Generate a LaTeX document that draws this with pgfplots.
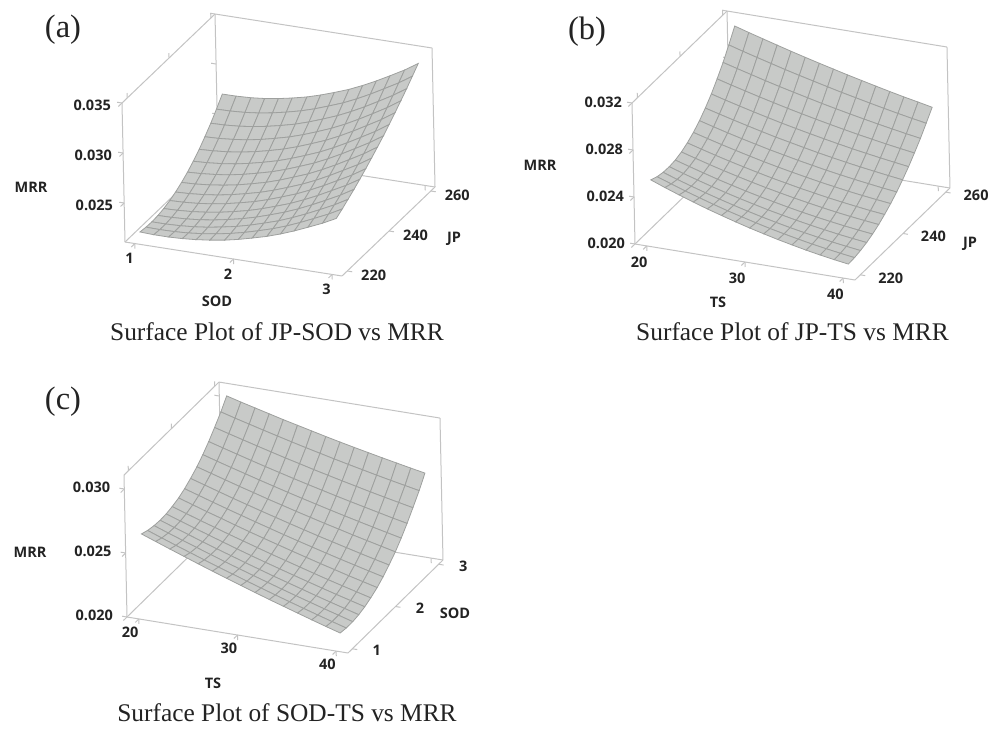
\documentclass[border=0pt]{standalone}
\usepackage{pgfplots}
\pgfplotsset{compat=1.18}
\usepackage{fontspec}
\setmainfont{Liberation Serif}
\newfontfamily\lbl{Open Sans}
\definecolor{boxg}{RGB}{195,195,195}
\definecolor{surfg}{RGB}{200,202,200}
\definecolor{meshg}{RGB}{158,160,158}
\definecolor{txt}{RGB}{35,35,35}
\pgfplotsset{
  rs/.style={
    clip=false,
    axis line style={boxg,line width=1pt},
    tick style={boxg,line width=1pt},
    tick align=outside,
    major tick length=5pt,
    xtick pos=left,ytick pos=right,ztick pos=left,
    xticklabel pos=left,yticklabel pos=left,zticklabel pos=left,
    scaled ticks=false,
    /pgf/number format/assume math mode=true,
    ticklabel style={font=\lbl\bfseries\fontsize{14.5}{14.5}\selectfont,text=txt},
    z tick label style={/pgf/number format/fixed,/pgf/number format/fixed zerofill,/pgf/number format/precision=3},
    x tick label style={/pgf/number format/fixed},
    y tick label style={/pgf/number format/fixed},
    colormap={cst}{color=(surfg) color=(surfg)},
    anchor=south west,
  },
  sf/.style={surf,shader=faceted,faceted color=meshg,line width=0.8pt,mesh/rows=15,mesh/cols=15},
}
\newcommand{\lab}[3]{\node[font=\lbl\bfseries\fontsize{14.5}{14.5}\selectfont,text=txt] at (#1pt,#2pt) {#3};}
\newcommand{\capt}[3]{\node[font=\fontsize{25.4}{25.4}\selectfont,text=txt] at (#1pt,#2pt) {#3};}
\newcommand{\pan}[3]{\node[font=\fontsize{32.5}{32.5}\selectfont,text=txt] at (#1pt,#2pt) {#3};}
\begin{document}
\begin{tikzpicture}[x=1pt,y=1pt]
\path[use as bounding box] (0,0) rectangle (1003pt,729pt);
% ---------- (a)
\begin{axis}[rs,at={(122pt,453pt)},
  x={(98.64pt,-15.45pt)},y={(2.09pt,2.0pt)},z={(-215.8pt,10000pt)},
  xmin=0.9,xmax=3.1,ymin=217.5,ymax=262,zmin=0.0211,zmax=0.035,
  xtick={1,2,3},ytick={220,240,260},ztick={0.025,0.03,0.035},
  x tick label style={xshift=2pt,yshift=-2pt},
  y tick label style={xshift=10pt,yshift=10pt},
  z tick label style={xshift=-4pt,yshift=8pt}]
\addplot3[sf] coordinates {
(1,220,0.02176)(1.14,220,0.0217)(1.29,220,0.0217)(1.43,220,0.02176)(1.57,220,0.02187)(1.71,220,0.02204)(1.86,220,0.02227)(2,220,0.02256)(2.14,220,0.02291)(2.29,220,0.02331)(2.43,220,0.02377)(2.57,220,0.02429)(2.71,220,0.02487)(2.86,220,0.02551)(3,220,0.0262)
(1,222.9,0.02166)(1.14,222.9,0.02163)(1.29,222.9,0.02166)(1.43,222.9,0.02174)(1.57,222.9,0.02189)(1.71,222.9,0.02209)(1.86,222.9,0.02236)(2,222.9,0.02268)(2.14,222.9,0.02306)(2.29,222.9,0.0235)(2.43,222.9,0.02399)(2.57,222.9,0.02455)(2.71,222.9,0.02517)(2.86,222.9,0.02584)(3,222.9,0.02657)
(1,225.7,0.02163)(1.14,225.7,0.02163)(1.29,225.7,0.02169)(1.43,225.7,0.0218)(1.57,225.7,0.02197)(1.71,225.7,0.02221)(1.86,225.7,0.0225)(2,225.7,0.02285)(2.14,225.7,0.02326)(2.29,225.7,0.02373)(2.43,225.7,0.02426)(2.57,225.7,0.02485)(2.71,225.7,0.02549)(2.86,225.7,0.0262)(3,225.7,0.02697)
(1,228.6,0.02169)(1.14,228.6,0.02171)(1.29,228.6,0.02179)(1.43,228.6,0.02192)(1.57,228.6,0.02212)(1.71,228.6,0.02238)(1.86,228.6,0.0227)(2,228.6,0.02307)(2.14,228.6,0.02351)(2.29,228.6,0.02401)(2.43,228.6,0.02456)(2.57,228.6,0.02518)(2.71,228.6,0.02585)(2.86,228.6,0.02659)(3,228.6,0.02739)
(1,231.4,0.02182)(1.14,231.4,0.02186)(1.29,231.4,0.02196)(1.43,231.4,0.02212)(1.57,231.4,0.02233)(1.71,231.4,0.02261)(1.86,231.4,0.02295)(2,231.4,0.02335)(2.14,231.4,0.02381)(2.29,231.4,0.02433)(2.43,231.4,0.02491)(2.57,231.4,0.02555)(2.71,231.4,0.02625)(2.86,231.4,0.02701)(3,231.4,0.02783)
(1,234.3,0.02204)(1.14,234.3,0.02209)(1.29,234.3,0.0222)(1.43,234.3,0.02238)(1.57,234.3,0.02261)(1.71,234.3,0.02291)(1.86,234.3,0.02326)(2,234.3,0.02368)(2.14,234.3,0.02416)(2.29,234.3,0.0247)(2.43,234.3,0.0253)(2.57,234.3,0.02596)(2.71,234.3,0.02668)(2.86,234.3,0.02746)(3,234.3,0.02831)
(1,237.1,0.02233)(1.14,237.1,0.02239)(1.29,237.1,0.02252)(1.43,237.1,0.0227)(1.57,237.1,0.02295)(1.71,237.1,0.02326)(1.86,237.1,0.02363)(2,237.1,0.02406)(2.14,237.1,0.02455)(2.29,237.1,0.02511)(2.43,237.1,0.02572)(2.57,237.1,0.0264)(2.71,237.1,0.02714)(2.86,237.1,0.02794)(3,237.1,0.0288)
(1,240,0.02271)(1.14,240,0.02277)(1.29,240,0.02291)(1.43,240,0.0231)(1.57,240,0.02335)(1.71,240,0.02367)(1.86,240,0.02405)(2,240,0.02449)(2.14,240,0.025)(2.29,240,0.02556)(2.43,240,0.02619)(2.57,240,0.02688)(2.71,240,0.02763)(2.86,240,0.02845)(3,240,0.02933)
(1,242.9,0.02316)(1.14,242.9,0.02323)(1.29,242.9,0.02337)(1.43,242.9,0.02356)(1.57,242.9,0.02382)(1.71,242.9,0.02415)(1.86,242.9,0.02453)(2,242.9,0.02498)(2.14,242.9,0.02549)(2.29,242.9,0.02606)(2.43,242.9,0.0267)(2.57,242.9,0.0274)(2.71,242.9,0.02816)(2.86,242.9,0.02899)(3,242.9,0.02987)
(1,245.7,0.02369)(1.14,245.7,0.02376)(1.29,245.7,0.0239)(1.43,245.7,0.02409)(1.57,245.7,0.02436)(1.71,245.7,0.02468)(1.86,245.7,0.02507)(2,245.7,0.02552)(2.14,245.7,0.02603)(2.29,245.7,0.02661)(2.43,245.7,0.02725)(2.57,245.7,0.02796)(2.71,245.7,0.02872)(2.86,245.7,0.02955)(3,245.7,0.03045)
(1,248.6,0.0243)(1.14,248.6,0.02437)(1.29,248.6,0.0245)(1.43,248.6,0.02469)(1.57,248.6,0.02495)(1.71,248.6,0.02527)(1.86,248.6,0.02566)(2,248.6,0.02611)(2.14,248.6,0.02662)(2.29,248.6,0.0272)(2.43,248.6,0.02784)(2.57,248.6,0.02855)(2.71,248.6,0.02932)(2.86,248.6,0.03015)(3,248.6,0.03105)
(1,251.4,0.025)(1.14,251.4,0.02505)(1.29,251.4,0.02518)(1.43,251.4,0.02536)(1.57,251.4,0.02561)(1.71,251.4,0.02593)(1.86,251.4,0.02631)(2,251.4,0.02675)(2.14,251.4,0.02726)(2.29,251.4,0.02784)(2.43,251.4,0.02847)(2.57,251.4,0.02918)(2.71,251.4,0.02994)(2.86,251.4,0.03078)(3,251.4,0.03167)
(1,254.3,0.02577)(1.14,254.3,0.02581)(1.29,254.3,0.02592)(1.43,254.3,0.0261)(1.57,254.3,0.02634)(1.71,254.3,0.02664)(1.86,254.3,0.02701)(2,254.3,0.02745)(2.14,254.3,0.02795)(2.29,254.3,0.02852)(2.43,254.3,0.02915)(2.57,254.3,0.02984)(2.71,254.3,0.0306)(2.86,254.3,0.03143)(3,254.3,0.03232)
(1,257.1,0.02662)(1.14,257.1,0.02665)(1.29,257.1,0.02674)(1.43,257.1,0.0269)(1.57,257.1,0.02713)(1.71,257.1,0.02742)(1.86,257.1,0.02778)(2,257.1,0.0282)(2.14,257.1,0.02869)(2.29,257.1,0.02924)(2.43,257.1,0.02986)(2.57,257.1,0.03055)(2.71,257.1,0.0313)(2.86,257.1,0.03212)(3,257.1,0.033)
(1,260,0.02755)(1.14,260,0.02756)(1.29,260,0.02763)(1.43,260,0.02777)(1.57,260,0.02798)(1.71,260,0.02825)(1.86,260,0.02859)(2,260,0.029)(2.14,260,0.02947)(2.29,260,0.03001)(2.43,260,0.03062)(2.57,260,0.03129)(2.71,260,0.03202)(2.86,260,0.03283)(3,260,0.0337)
};
\end{axis}
% ---------- (b)
\begin{axis}[rs,at={(632pt,449pt)},
  x={(9.82pt,-1.607pt)},y={(2.135pt,2.067pt)},z={(-250pt,11750pt)},
  xmin=18.8,xmax=41.2,ymin=217.5,ymax=262,zmin=0.02,zmax=0.032,
  xtick={20,30,40},ytick={220,240,260},ztick={0.02,0.024,0.028,0.032},
  x tick label style={xshift=0pt,yshift=-3pt},
  y tick label style={xshift=14pt,yshift=11pt},
  z tick label style={xshift=-3pt,yshift=11pt}]
\addplot3[sf] coordinates {
(20,220,0.02518)(21.43,220,0.02472)(22.86,220,0.02429)(24.29,220,0.02388)(25.71,220,0.02349)(27.14,220,0.02313)(28.57,220,0.02278)(30,220,0.02245)(31.43,220,0.02215)(32.86,220,0.02186)(34.29,220,0.0216)(35.71,220,0.02135)(37.14,220,0.02113)(38.57,220,0.02093)(40,220,0.02075)
(20,222.9,0.02494)(21.43,222.9,0.02452)(22.86,222.9,0.02411)(24.29,222.9,0.02373)(25.71,222.9,0.02336)(27.14,222.9,0.02301)(28.57,222.9,0.02269)(30,222.9,0.02238)(31.43,222.9,0.02209)(32.86,222.9,0.02183)(34.29,222.9,0.02158)(35.71,222.9,0.02135)(37.14,222.9,0.02115)(38.57,222.9,0.02096)(40,222.9,0.02079)
(20,225.7,0.02482)(21.43,225.7,0.02441)(22.86,225.7,0.02403)(24.29,225.7,0.02366)(25.71,225.7,0.02332)(27.14,225.7,0.02299)(28.57,225.7,0.02268)(30,225.7,0.02239)(31.43,225.7,0.02212)(32.86,225.7,0.02187)(34.29,225.7,0.02164)(35.71,225.7,0.02143)(37.14,225.7,0.02123)(38.57,225.7,0.02106)(40,225.7,0.0209)
(20,228.6,0.02479)(21.43,228.6,0.0244)(22.86,228.6,0.02404)(24.29,228.6,0.02369)(25.71,228.6,0.02336)(27.14,228.6,0.02305)(28.57,228.6,0.02276)(30,228.6,0.02248)(31.43,228.6,0.02223)(32.86,228.6,0.02199)(34.29,228.6,0.02177)(35.71,228.6,0.02157)(37.14,228.6,0.02138)(38.57,228.6,0.02122)(40,228.6,0.02107)
(20,231.4,0.02486)(21.43,231.4,0.0245)(22.86,231.4,0.02415)(24.29,231.4,0.02381)(25.71,231.4,0.0235)(27.14,231.4,0.0232)(28.57,231.4,0.02292)(30,231.4,0.02266)(31.43,231.4,0.02241)(32.86,231.4,0.02218)(34.29,231.4,0.02197)(35.71,231.4,0.02178)(37.14,231.4,0.0216)(38.57,231.4,0.02144)(40,231.4,0.0213)
(20,234.3,0.02504)(21.43,234.3,0.02469)(22.86,234.3,0.02435)(24.29,234.3,0.02403)(25.71,234.3,0.02373)(27.14,234.3,0.02344)(28.57,234.3,0.02317)(30,234.3,0.02292)(31.43,234.3,0.02268)(32.86,234.3,0.02246)(34.29,234.3,0.02225)(35.71,234.3,0.02206)(37.14,234.3,0.02189)(38.57,234.3,0.02174)(40,234.3,0.0216)
(20,237.1,0.02532)(21.43,237.1,0.02498)(22.86,237.1,0.02465)(24.29,237.1,0.02434)(25.71,237.1,0.02405)(27.14,237.1,0.02377)(28.57,237.1,0.0235)(30,237.1,0.02326)(31.43,237.1,0.02302)(32.86,237.1,0.02281)(34.29,237.1,0.0226)(35.71,237.1,0.02242)(37.14,237.1,0.02225)(38.57,237.1,0.02209)(40,237.1,0.02196)
(20,240,0.0257)(21.43,240,0.02537)(22.86,240,0.02505)(24.29,240,0.02475)(25.71,240,0.02446)(27.14,240,0.02418)(28.57,240,0.02392)(30,240,0.02368)(31.43,240,0.02345)(32.86,240,0.02323)(34.29,240,0.02303)(35.71,240,0.02284)(37.14,240,0.02267)(38.57,240,0.02252)(40,240,0.02238)
(20,242.9,0.02619)(21.43,242.9,0.02586)(22.86,242.9,0.02554)(24.29,242.9,0.02524)(25.71,242.9,0.02496)(27.14,242.9,0.02468)(28.57,242.9,0.02443)(30,242.9,0.02418)(31.43,242.9,0.02395)(32.86,242.9,0.02373)(34.29,242.9,0.02353)(35.71,242.9,0.02334)(37.14,242.9,0.02317)(38.57,242.9,0.023)(40,242.9,0.02286)
(20,245.7,0.02677)(21.43,245.7,0.02645)(22.86,245.7,0.02614)(24.29,245.7,0.02584)(25.71,245.7,0.02555)(27.14,245.7,0.02527)(28.57,245.7,0.02502)(30,245.7,0.02477)(31.43,245.7,0.02453)(32.86,245.7,0.02431)(34.29,245.7,0.0241)(35.71,245.7,0.02391)(37.14,245.7,0.02373)(38.57,245.7,0.02356)(40,245.7,0.0234)
(20,248.6,0.02746)(21.43,248.6,0.02713)(22.86,248.6,0.02682)(24.29,248.6,0.02652)(25.71,248.6,0.02623)(27.14,248.6,0.02595)(28.57,248.6,0.02569)(30,248.6,0.02544)(31.43,248.6,0.0252)(32.86,248.6,0.02497)(34.29,248.6,0.02475)(35.71,248.6,0.02455)(37.14,248.6,0.02436)(38.57,248.6,0.02418)(40,248.6,0.02401)
(20,251.4,0.02825)(21.43,251.4,0.02792)(22.86,251.4,0.02761)(24.29,251.4,0.0273)(25.71,251.4,0.02701)(27.14,251.4,0.02672)(28.57,251.4,0.02645)(30,251.4,0.02619)(31.43,251.4,0.02594)(32.86,251.4,0.0257)(34.29,251.4,0.02547)(35.71,251.4,0.02526)(37.14,251.4,0.02505)(38.57,251.4,0.02486)(40,251.4,0.02468)
(20,254.3,0.02914)(21.43,254.3,0.02881)(22.86,254.3,0.02849)(24.29,254.3,0.02817)(25.71,254.3,0.02787)(27.14,254.3,0.02758)(28.57,254.3,0.0273)(30,254.3,0.02702)(31.43,254.3,0.02676)(32.86,254.3,0.02651)(34.29,254.3,0.02627)(35.71,254.3,0.02604)(37.14,254.3,0.02582)(38.57,254.3,0.02561)(40,254.3,0.02541)
(20,257.1,0.03014)(21.43,257.1,0.02979)(22.86,257.1,0.02946)(24.29,257.1,0.02914)(25.71,257.1,0.02882)(27.14,257.1,0.02852)(28.57,257.1,0.02823)(30,257.1,0.02794)(31.43,257.1,0.02766)(32.86,257.1,0.0274)(34.29,257.1,0.02714)(35.71,257.1,0.02689)(37.14,257.1,0.02665)(38.57,257.1,0.02642)(40,257.1,0.02621)
(20,260,0.03124)(21.43,260,0.03088)(22.86,260,0.03054)(24.29,260,0.0302)(25.71,260,0.02987)(27.14,260,0.02955)(28.57,260,0.02924)(30,260,0.02894)(31.43,260,0.02864)(32.86,260,0.02836)(34.29,260,0.02808)(35.71,260,0.02781)(37.14,260,0.02755)(38.57,260,0.02731)(40,260,0.02706)
};
\end{axis}
% ---------- (c)
\begin{axis}[rs,at={(124pt,76pt)},
  x={(9.866pt,-1.607pt)},y={(43.18pt,42.27pt)},z={(-270.5pt,12800pt)},
  xmin=18.8,xmax=41.2,ymin=0.9,ymax=3.1,zmin=0.02,zmax=0.03109,
  xtick={20,30,40},ytick={1,2,3},ztick={0.02,0.025,0.03},
  x tick label style={xshift=-1pt,yshift=0pt},
  y tick label style={xshift=12pt,yshift=8pt},
  z tick label style={xshift=-7pt,yshift=12pt}]
\addplot3[sf] coordinates {
(20,1,0.02631)(21.43,1,0.0259)(22.86,1,0.02549)(24.29,1,0.02509)(25.71,1,0.02469)(27.14,1,0.0243)(28.57,1,0.02392)(30,1,0.02354)(31.43,1,0.02317)(32.86,1,0.0228)(34.29,1,0.02245)(35.71,1,0.0221)(37.14,1,0.02175)(38.57,1,0.02141)(40,1,0.02108)
(20,1.14,0.02612)(21.43,1.14,0.02571)(22.86,1.14,0.02531)(24.29,1.14,0.02492)(25.71,1.14,0.02453)(27.14,1.14,0.02415)(28.57,1.14,0.02378)(30,1.14,0.02341)(31.43,1.14,0.02305)(32.86,1.14,0.02269)(34.29,1.14,0.02234)(35.71,1.14,0.022)(37.14,1.14,0.02166)(38.57,1.14,0.02133)(40,1.14,0.02101)
(20,1.29,0.026)(21.43,1.29,0.0256)(22.86,1.29,0.02521)(24.29,1.29,0.02483)(25.71,1.29,0.02445)(27.14,1.29,0.02407)(28.57,1.29,0.02371)(30,1.29,0.02335)(31.43,1.29,0.023)(32.86,1.29,0.02265)(34.29,1.29,0.02231)(35.71,1.29,0.02198)(37.14,1.29,0.02165)(38.57,1.29,0.02133)(40,1.29,0.02101)
(20,1.43,0.02596)(21.43,1.43,0.02557)(22.86,1.43,0.02519)(24.29,1.43,0.02481)(25.71,1.43,0.02444)(27.14,1.43,0.02408)(28.57,1.43,0.02372)(30,1.43,0.02337)(31.43,1.43,0.02302)(32.86,1.43,0.02269)(34.29,1.43,0.02236)(35.71,1.43,0.02203)(37.14,1.43,0.02171)(38.57,1.43,0.0214)(40,1.43,0.02109)
(20,1.57,0.02599)(21.43,1.57,0.02561)(22.86,1.57,0.02524)(24.29,1.57,0.02487)(25.71,1.57,0.02451)(27.14,1.57,0.02415)(28.57,1.57,0.0238)(30,1.57,0.02346)(31.43,1.57,0.02313)(32.86,1.57,0.0228)(34.29,1.57,0.02248)(35.71,1.57,0.02216)(37.14,1.57,0.02185)(38.57,1.57,0.02155)(40,1.57,0.02125)
(20,1.71,0.0261)(21.43,1.71,0.02573)(22.86,1.71,0.02536)(24.29,1.71,0.02501)(25.71,1.71,0.02465)(27.14,1.71,0.02431)(28.57,1.71,0.02397)(30,1.71,0.02363)(31.43,1.71,0.02331)(32.86,1.71,0.02299)(34.29,1.71,0.02267)(35.71,1.71,0.02236)(37.14,1.71,0.02206)(38.57,1.71,0.02177)(40,1.71,0.02148)
(20,1.86,0.02628)(21.43,1.86,0.02592)(22.86,1.86,0.02556)(24.29,1.86,0.02522)(25.71,1.86,0.02487)(27.14,1.86,0.02453)(28.57,1.86,0.0242)(30,1.86,0.02388)(31.43,1.86,0.02356)(32.86,1.86,0.02325)(34.29,1.86,0.02294)(35.71,1.86,0.02265)(37.14,1.86,0.02235)(38.57,1.86,0.02207)(40,1.86,0.02179)
(20,2,0.02654)(21.43,2,0.02619)(22.86,2,0.02584)(24.29,2,0.0255)(25.71,2,0.02517)(27.14,2,0.02484)(28.57,2,0.02452)(30,2,0.0242)(31.43,2,0.02389)(32.86,2,0.02359)(34.29,2,0.02329)(35.71,2,0.023)(37.14,2,0.02272)(38.57,2,0.02244)(40,2,0.02217)
(20,2.14,0.02688)(21.43,2.14,0.02654)(22.86,2.14,0.0262)(24.29,2.14,0.02586)(25.71,2.14,0.02554)(27.14,2.14,0.02522)(28.57,2.14,0.02491)(30,2.14,0.0246)(31.43,2.14,0.0243)(32.86,2.14,0.024)(34.29,2.14,0.02372)(35.71,2.14,0.02344)(37.14,2.14,0.02316)(38.57,2.14,0.02289)(40,2.14,0.02263)
(20,2.29,0.02729)(21.43,2.29,0.02696)(22.86,2.29,0.02663)(24.29,2.29,0.0263)(25.71,2.29,0.02599)(27.14,2.29,0.02567)(28.57,2.29,0.02537)(30,2.29,0.02507)(31.43,2.29,0.02478)(32.86,2.29,0.02449)(34.29,2.29,0.02422)(35.71,2.29,0.02394)(37.14,2.29,0.02368)(38.57,2.29,0.02342)(40,2.29,0.02316)
(20,2.43,0.02778)(21.43,2.43,0.02745)(22.86,2.43,0.02713)(24.29,2.43,0.02682)(25.71,2.43,0.02651)(27.14,2.43,0.02621)(28.57,2.43,0.02591)(30,2.43,0.02562)(31.43,2.43,0.02534)(32.86,2.43,0.02506)(34.29,2.43,0.02479)(35.71,2.43,0.02453)(37.14,2.43,0.02427)(38.57,2.43,0.02402)(40,2.43,0.02377)
(20,2.57,0.02834)(21.43,2.57,0.02802)(22.86,2.57,0.02771)(24.29,2.57,0.0274)(25.71,2.57,0.0271)(27.14,2.57,0.02681)(28.57,2.57,0.02652)(30,2.57,0.02624)(31.43,2.57,0.02597)(32.86,2.57,0.0257)(34.29,2.57,0.02544)(35.71,2.57,0.02519)(37.14,2.57,0.02494)(38.57,2.57,0.02469)(40,2.57,0.02446)
(20,2.71,0.02898)(21.43,2.71,0.02867)(22.86,2.71,0.02837)(24.29,2.71,0.02807)(25.71,2.71,0.02778)(27.14,2.71,0.02749)(28.57,2.71,0.02722)(30,2.71,0.02694)(31.43,2.71,0.02668)(32.86,2.71,0.02642)(34.29,2.71,0.02617)(35.71,2.71,0.02592)(37.14,2.71,0.02568)(38.57,2.71,0.02545)(40,2.71,0.02522)
(20,2.86,0.0297)(21.43,2.86,0.02939)(22.86,2.86,0.0291)(24.29,2.86,0.02881)(25.71,2.86,0.02853)(27.14,2.86,0.02825)(28.57,2.86,0.02798)(30,2.86,0.02772)(31.43,2.86,0.02746)(32.86,2.86,0.02721)(34.29,2.86,0.02697)(35.71,2.86,0.02673)(37.14,2.86,0.0265)(38.57,2.86,0.02628)(40,2.86,0.02606)
(20,3,0.03049)(21.43,3,0.03019)(22.86,3,0.02991)(24.29,3,0.02963)(25.71,3,0.02935)(27.14,3,0.02909)(28.57,3,0.02883)(30,3,0.02857)(31.43,3,0.02832)(32.86,3,0.02808)(34.29,3,0.02785)(35.71,3,0.02762)(37.14,3,0.0274)(38.57,3,0.02718)(40,3,0.02697)
};
\end{axis}
% text (y = 729 - pixel y)
\pan{63}{699}{(a)}
\pan{587}{697}{(b)}
\pan{63}{327}{(c)}
\capt{277}{397}{Surface Plot of JP-SOD vs MRR}
\capt{792.5}{397}{Surface Plot of JP-TS vs MRR}
\capt{287}{16}{Surface Plot of SOD-TS vs MRR}
\lab{31}{542}{MRR}\lab{217}{428}{SOD}\lab{454}{490}{JP}
\lab{540}{564}{MRR}\lab{718}{427}{TS}\lab{970}{485}{JP}
\lab{30}{177}{MRR}\lab{213}{46}{TS}\lab{455}{116}{SOD}
\end{tikzpicture}
\end{document}
